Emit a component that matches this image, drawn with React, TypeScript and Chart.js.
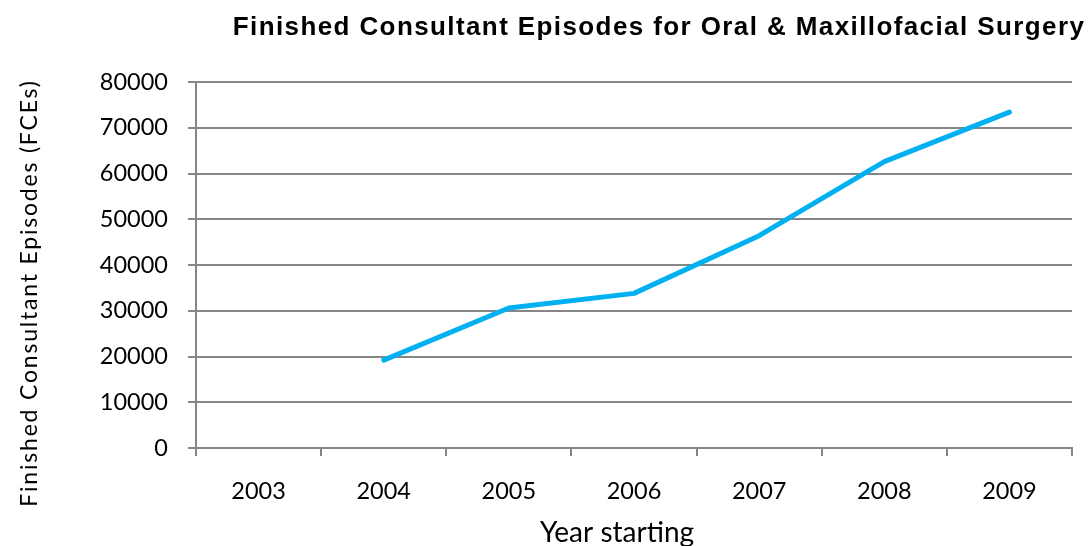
import React, { useEffect, useRef } from "react";
import { Chart, registerables } from "chart.js";

Chart.register(...registerables);

const TITLE = "Finished Consultant Episodes for Oral & Maxillofacial Surgery";
const Y_TITLE = "Finished Consultant Episodes (FCEs)";
const X_TITLE = "Year starting";
const years = ["2003", "2004", "2005", "2006", "2007", "2008", "2009"];
const fces: (number | null)[] = [null, 19200, 30600, 33800, 46400, 62600, 73400];
const yMin = 0;
const yMax = 80000;
const yStep = 10000;

const FONT = "Lato, 'Open Sans', sans-serif";
const TITLE_FONT = "'Liberation Sans', Arial, sans-serif";
const GRID = "#868686";

const titlesPlugin = {
  id: "customTitles",
  afterDraw(chart: any) {
    const ctx = chart.ctx as any;
    const hasLS = "letterSpacing" in ctx;
    ctx.save();
    ctx.fillStyle = "#000000";
    ctx.textAlign = "center";
    ctx.textBaseline = "alphabetic";
    // main title
    ctx.font = `bold 26px ${TITLE_FONT}`;
    if (hasLS) ctx.letterSpacing = "1.4px";
    ctx.fillText(TITLE, 659, 35);
    // x axis title
    ctx.font = `28px ${FONT}`;
    if (hasLS) ctx.letterSpacing = "0px";
    ctx.fillText(X_TITLE, 617, 542);
    // y axis title
    ctx.font = `23px ${FONT}`;
    if (hasLS) ctx.letterSpacing = "1.8px";
    ctx.translate(37, 293);
    ctx.rotate(-Math.PI / 2);
    ctx.fillText(Y_TITLE, 0, 0);
    ctx.restore();
  },
};

export default function App() {
  const ref = useRef<HTMLCanvasElement | null>(null);
  useEffect(() => {
    if (!ref.current) return;
    const chart = new Chart(ref.current, {
      type: "line",
      data: {
        labels: years,
        datasets: [
          {
            label: "FCEs",
            data: fces,
            borderColor: "#00B0F0",
            backgroundColor: "#00B0F0",
            borderWidth: 5,
            borderCapStyle: "round",
            borderJoinStyle: "round",
            pointRadius: 0,
            tension: 0,
            spanGaps: false,
          },
        ],
      },
      options: {
        responsive: false,
        animation: false,
        devicePixelRatio: 1,
        layout: { padding: { left: 0, top: 82, right: 18, bottom: 0 } },
        plugins: {
          legend: { display: false },
          title: { display: false },
          tooltip: { enabled: false },
        },
        scales: {
          x: {
            type: "category",
            offset: true,
            grid: {
              offset: true,
              drawOnChartArea: false,
              drawTicks: true,
              tickLength: 8,
              color: GRID,
              lineWidth: 2,
            },
            border: { display: true, color: GRID, width: 2 },
            ticks: {
              color: "#000000",
              font: { family: FONT, size: 23.5 },
              padding: 21,
              maxRotation: 0,
            },
            afterFit(scale: any) {
              scale.height = 98;
            },
          },
          y: {
            min: yMin,
            max: yMax,
            grid: {
              color: GRID,
              lineWidth: 2,
              drawTicks: true,
              tickLength: 8,
            },
            border: { display: true, color: GRID, width: 2 },
            ticks: {
              stepSize: yStep,
              color: "#000000",
              font: { family: FONT, size: 23.5 },
              padding: 20,
              callback: (v: any) => String(v),
            },
            afterFit(scale: any) {
              scale.width = 196;
            },
          },
        },
      },
      plugins: [titlesPlugin],
    });
    return () => chart.destroy();
  }, []);
  return (
    <div style={{ position: "fixed", left: 0, top: 0, width: 1090, height: 546, background: "#ffffff" }}>
      <canvas ref={ref} width={1090} height={546} style={{ display: "block" }} />
    </div>
  );
}
